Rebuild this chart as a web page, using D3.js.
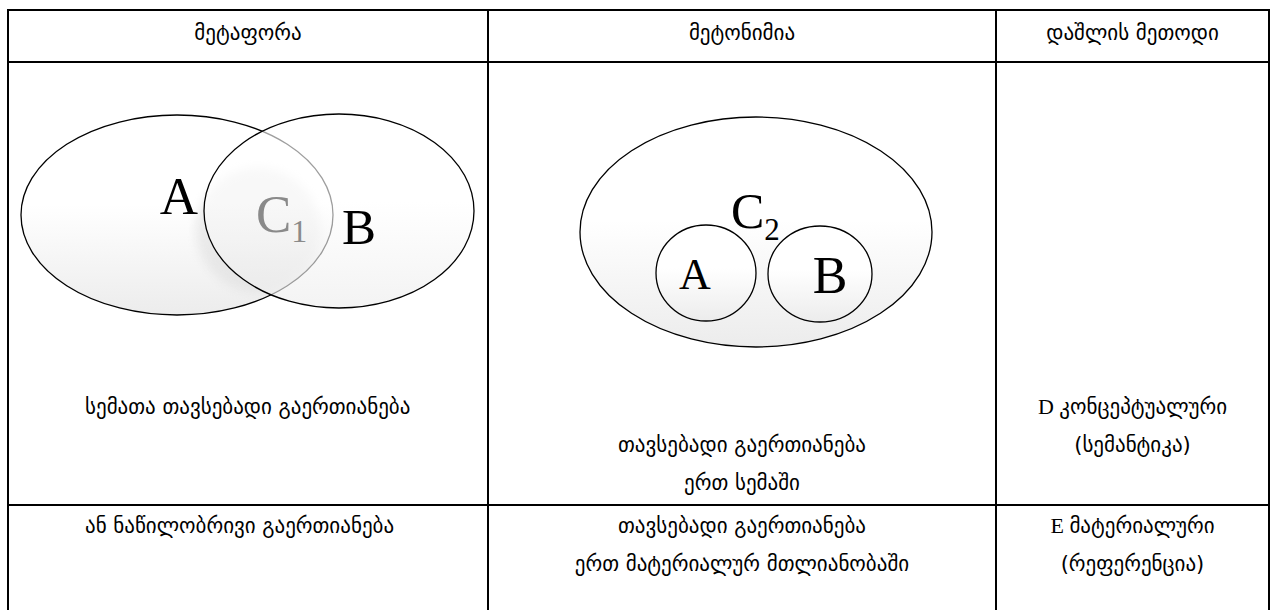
<!DOCTYPE html>
<html>
<head>
<meta charset="utf-8">
<script src="https://cdn.jsdelivr.net/npm/d3@7"></script>
<style>
  body { margin: 0; background: #fff; }
</style>
</head>
<body>
<svg id="chart"></svg>
<script>
// table content
const headers = ['მეტაფორა', 'მეტონიმია', 'დაშლის მეთოდი'];
const rowOne = [
  ['სემათა თავსებადი გაერთიანება'],
  ['თავსებადი გაერთიანება', 'ერთ სემაში'],
  ['D კონცეპტუალური', '(სემანტიკა)']
];
const rowTwo = [
  ['ან ნაწილობრივი გაერთიანება'],
  ['თავსებადი გაერთიანება', 'ერთ მატერიალურ მთლიანობაში'],
  ['E მატერიალური', '(რეფერენცია)']
];

// diagram sets, in cell units
const metaphorSets = [
  {name: 'A', cx: 169, cy: 153, rx: 156, ry: 100},
  {name: 'B', cx: 331, cy: 149, rx: 135, ry: 97}
];
const metonymySets = [
  {name: 'C', cx: 268, cy: 170, rx: 176, ry: 115},
  {name: 'A', cx: 218, cy: 211, rx: 50, ry: 48},
  {name: 'B', cx: 332, cy: 212, rx: 52, ry: 48}
];

const W = 1276, H = 610;
const colEdges = [8, 488, 996, 1269];
const rowEdges = [10, 62, 505, 640];

const svg = d3.select('#chart')
  .attr('width', W)
  .attr('height', H);

const defs = svg.append('defs');
const grad = defs.append('linearGradient')
  .attr('id', 'fade')
  .attr('x1', 0).attr('y1', 0).attr('x2', 0).attr('y2', 1);
grad.append('stop').attr('offset', '0%').attr('stop-color', '#ffffff');
grad.append('stop').attr('offset', '45%').attr('stop-color', '#ffffff');
grad.append('stop').attr('offset', '100%').attr('stop-color', '#ececec');

defs.append('filter').attr('id', 'blur')
  .append('feGaussianBlur').attr('stdDeviation', 5);

const geo = '"DejaVu Sans", sans-serif';
const serif = '"Liberation Serif", "DejaVu Serif", serif';

// GRID
const grid = svg.append('g')
  .attr('stroke', '#000')
  .attr('stroke-width', 2);

grid.selectAll('.vline')
  .data(colEdges)
  .enter()
  .append('line')
  .attr('x1', d => d).attr('x2', d => d)
  .attr('y1', rowEdges[0] - 1).attr('y2', H);

grid.selectAll('.hline')
  .data(rowEdges.slice(0, 3))
  .enter()
  .append('line')
  .attr('x1', colEdges[0] - 1).attr('x2', colEdges[3] + 1)
  .attr('y1', d => d).attr('y2', d => d);

const colCenter = i => (colEdges[i] + colEdges[i + 1]) / 2;

// HEADER
svg.selectAll('.head')
  .data(headers)
  .enter()
  .append('text')
  .attr('x', (d, i) => colCenter(i))
  .attr('y', 40)
  .attr('text-anchor', 'middle')
  .style('font-family', geo)
  .style('font-size', '21px')
  .text(d => d);

// body text
function cellText(data, lineY) {
  data.forEach((lines, i) => {
    lines.forEach((line, j) => {
      const t = svg.append('text')
        .attr('y', lineY[i] + j * 38)
        .style('font-family', geo)
        .style('font-size', '21px');
      if (i === 0) {
        t.attr('x', 85).attr('text-anchor', 'start');
      } else {
        t.attr('x', colCenter(i)).attr('text-anchor', 'middle');
      }
      const m = line.match(/^([A-Z]) (.*)$/);
      if (m) {
        t.append('tspan').style('font-family', serif).style('font-size', '22px').text(m[1] + ' ');
        t.append('tspan').text(m[2]);
      } else {
        t.text(line);
      }
    });
  });
}
cellText(rowOne, [414, 452, 414]);
cellText(rowTwo, [533, 533, 533]);

// =========================
// METAPHOR DIAGRAM
// =========================
const x1 = d3.scaleLinear().domain([0, 480]).range([colEdges[0], colEdges[0] + 480]);
const y1 = d3.scaleLinear().domain([0, 443]).range([rowEdges[1], rowEdges[1] + 443]);
const g1 = svg.append('g');

const clipA = defs.append('clipPath').attr('id', 'clipA');
clipA.append('ellipse')
  .attr('cx', x1(metaphorSets[0].cx)).attr('cy', y1(metaphorSets[0].cy))
  .attr('rx', metaphorSets[0].rx).attr('ry', metaphorSets[0].ry);

g1.append('ellipse')
  .attr('cx', x1(metaphorSets[0].cx)).attr('cy', y1(metaphorSets[0].cy))
  .attr('rx', metaphorSets[0].rx).attr('ry', metaphorSets[0].ry)
  .attr('fill', 'url(#fade)')
  .attr('stroke', '#000')
  .attr('stroke-width', 1.3);

// soft shadow round the overlap
g1.append('g').attr('clip-path', 'url(#clipA)')
  .append('circle')
  .attr('cx', x1(250)).attr('cy', y1(168))
  .attr('r', 62)
  .attr('fill', '#d8d8d8')
  .attr('opacity', 0.45)
  .attr('filter', 'url(#blur)');

g1.append('text')
  .attr('x', x1(171)).attr('y', y1(152))
  .attr('text-anchor', 'middle')
  .style('font-family', serif)
  .style('font-size', '53px')
  .text('A');

g1.append('ellipse')
  .attr('cx', x1(metaphorSets[1].cx)).attr('cy', y1(metaphorSets[1].cy))
  .attr('rx', metaphorSets[1].rx).attr('ry', metaphorSets[1].ry)
  .attr('fill', 'url(#fade)')
  .attr('fill-opacity', 0.62)
  .attr('stroke', 'none');

g1.append('ellipse')
  .attr('cx', x1(metaphorSets[1].cx)).attr('cy', y1(metaphorSets[1].cy))
  .attr('rx', metaphorSets[1].rx).attr('ry', metaphorSets[1].ry)
  .attr('fill', 'none')
  .attr('stroke', '#000')
  .attr('stroke-width', 1.3);

const c1 = g1.append('text')
  .attr('x', x1(248)).attr('y', y1(170))
  .style('font-family', serif)
  .style('font-size', '53px')
  .attr('fill', '#8a8a8a');
c1.append('tspan').text('C');
c1.append('tspan').attr('dy', 10).style('font-size', '32px').text('1');

g1.append('text')
  .attr('x', x1(334)).attr('y', y1(182))
  .style('font-family', serif)
  .style('font-size', '51px')
  .text('B');

// =========================
// METONYMY DIAGRAM
// =========================
const x2 = d3.scaleLinear().domain([0, 508]).range([colEdges[1], colEdges[2]]);
const y2 = d3.scaleLinear().domain([0, 443]).range([rowEdges[1], rowEdges[1] + 443]);
const g2 = svg.append('g');

g2.selectAll('ellipse')
  .data(metonymySets)
  .enter()
  .append('ellipse')
  .attr('cx', d => x2(d.cx)).attr('cy', d => y2(d.cy))
  .attr('rx', d => d.rx).attr('ry', d => d.ry)
  .attr('fill', 'url(#fade)')
  .attr('stroke', '#000')
  .attr('stroke-width', 1.3);

const c2 = g2.append('text')
  .attr('x', x2(243)).attr('y', y2(166))
  .style('font-family', serif)
  .style('font-size', '50px');
c2.append('tspan').text('C');
c2.append('tspan').attr('dy', 12).style('font-size', '31px').text('2');

g2.append('text')
  .attr('x', x2(207)).attr('y', y2(227))
  .attr('text-anchor', 'middle')
  .style('font-family', serif)
  .style('font-size', '44px')
  .text('A');

g2.append('text')
  .attr('x', x2(342)).attr('y', y2(231))
  .attr('text-anchor', 'middle')
  .style('font-family', serif)
  .style('font-size', '52px')
  .text('B');
</script>
</body>
</html>
